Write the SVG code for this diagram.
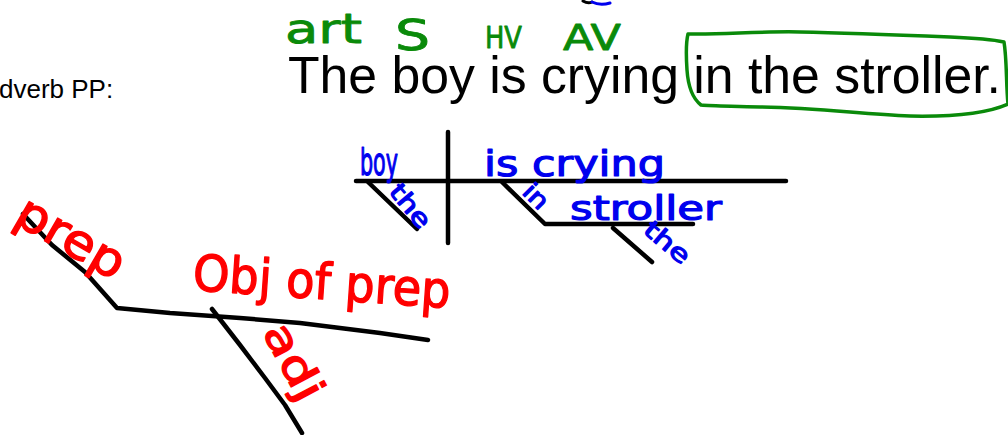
<svg xmlns="http://www.w3.org/2000/svg" width="1008" height="435" viewBox="0 0 1008 435">
<style>
.print{font-family:"Liberation Sans",Arial,sans-serif;fill:#000}
.hand{font-family:"DejaVu Sans","Liberation Sans",sans-serif;stroke-linejoin:round;stroke-linecap:round}
.g{fill:#0a8a0a;stroke:#0a8a0a;stroke-width:0.8}
.b{fill:#0000ee;stroke:#0000ee;stroke-width:1.2}
.r{fill:#f00;stroke:#f00;stroke-width:1.4}
.ln{fill:none;stroke:#000;stroke-width:4.5;stroke-linecap:round;stroke-linejoin:round}
</style>
<rect width="1008" height="435" fill="#fff"/>
<g id="top-marks">
<path d="M583,1 Q588,4 592,2" fill="none" stroke="#000" stroke-width="3" stroke-linecap="round"/>
<path d="M592,2 Q600,6 610,3" fill="none" stroke="#0000ee" stroke-width="3" stroke-linecap="round"/>
</g>
<g id="heading">
<text class="print" x="-1" y="98" font-size="26">dverb PP:</text>
</g>
<g id="sentence">
<text class="print" x="288" y="93" font-size="51.5" textLength="713" lengthAdjust="spacingAndGlyphs">The boy is crying in the stroller.</text>
</g>
<g id="labels-green">
<text class="hand g" x="285" y="43" font-size="40" textLength="77" lengthAdjust="spacingAndGlyphs">art</text>
<text class="hand g" x="395" y="50" font-size="42" textLength="35" lengthAdjust="spacingAndGlyphs">S</text>
<text class="hand g" x="485" y="48" font-size="30" textLength="37" lengthAdjust="spacingAndGlyphs">HV</text>
<text class="hand g" x="563" y="50" font-size="36" textLength="58" lengthAdjust="spacingAndGlyphs">AV</text>
<path id="pp-circle" d="M688,34 C720,35 760,31 800,32 C850,33 900,35 950,37 C975,38 995,40 1004,42 C1007,60 1006,85 1008,104 C990,112 960,117 910,116 C860,114 820,108 760,107 C730,106 712,106 701,105 C692,98 688,85 687,70 C686,55 686,42 688,34 Z" fill="none" stroke="#0a8a0a" stroke-width="3.5" stroke-linejoin="round"/>
</g>
<g id="connectors">
<path class="ln" d="M356,181 L786,181"/>
<path class="ln" d="M448,132 L448,243"/>
<path class="ln" d="M368,182 L417,229"/>
<path class="ln" d="M502,182 L545,224 L693,224"/>
<path class="ln" d="M613,228 L652,262"/>
<path class="ln" d="M23,214 L52,245 L85,272 L117,308 L170,313 L240,318 L300,323 L380,333 L428,340"/>
<path class="ln" d="M212,309 L240,345 L265,378 L285,405 L302,433"/>
</g>
<g id="labels-blue">
<text class="hand b" x="360" y="175" font-size="38" textLength="38" lengthAdjust="spacingAndGlyphs">boy</text>
<text class="hand b" font-size="24" textLength="50" lengthAdjust="spacingAndGlyphs" transform="translate(388,192) rotate(50)" x="0" y="0">the</text>
<text class="hand b" x="484" y="176" font-size="36" textLength="181" lengthAdjust="spacingAndGlyphs">is crying</text>
<text class="hand b" font-size="24" textLength="26" lengthAdjust="spacingAndGlyphs" transform="translate(521,193) rotate(45)" x="0" y="0">in</text>
<text class="hand b" x="570" y="220" font-size="34" textLength="152" lengthAdjust="spacingAndGlyphs">stroller</text>
<text class="hand b" font-size="24" textLength="52" lengthAdjust="spacingAndGlyphs" transform="translate(642,232) rotate(40)" x="0" y="0">the</text>
</g>
<g id="labels-red">
<text class="hand r" font-size="48" textLength="118" lengthAdjust="spacingAndGlyphs" transform="translate(12,222) rotate(30)" x="0" y="0">prep</text>
<text class="hand r" font-size="50" textLength="258" lengthAdjust="spacingAndGlyphs" transform="translate(192,290) rotate(4)" x="0" y="0">Obj of prep</text>
<text class="hand r" font-size="42" textLength="82" lengthAdjust="spacingAndGlyphs" transform="translate(262,332) rotate(62)" x="0" y="0">adj</text>
</g>
</svg>
